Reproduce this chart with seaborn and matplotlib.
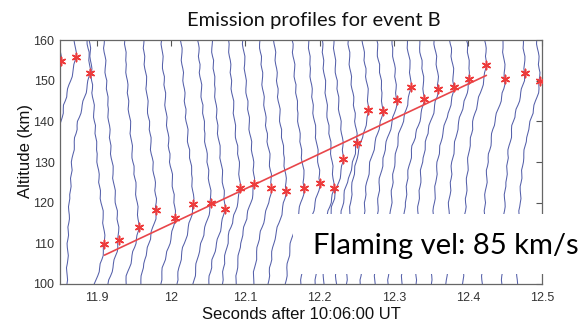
import numpy as np
import pandas as pd
import matplotlib
matplotlib.use("Agg")
import matplotlib.pyplot as plt
import seaborn as sns
from matplotlib.patches import Rectangle

# ---- data ----
star_time = [11.8515, 11.871, 11.890, 11.910, 11.929, 11.956, 11.980, 12.005,
             12.030, 12.053, 12.072, 12.093, 12.112, 12.135, 12.155, 12.179,
             12.200, 12.219, 12.232, 12.250, 12.266, 12.285, 12.304, 12.323,
             12.341, 12.360, 12.381, 12.402, 12.425, 12.450, 12.477, 12.497]
star_alt = [154.8, 155.9, 151.8, 109.8, 110.7, 113.9, 118.2, 116.2,
            119.6, 119.9, 118.4, 123.6, 124.6, 123.7, 122.9, 123.7,
            124.8, 123.7, 130.7, 134.7, 142.9, 142.6, 145.2, 148.5,
            145.6, 148.0, 148.4, 150.5, 153.8, 150.3, 151.8, 149.9]

# profile shape: horizontal offset (ms) vs altitude distance from the peak (km)
shape_dkm = [-60, -45, -30, -20, -12, -6, -2, 0, 3, 8, 15, 25, 40, 60]
shape_ms = [-32, -30, -27, -23, -16, -7, -1.5, 0, -0.6, -2.8, -7, -11.5, -17, -23]
# small-scale wiggle of the profiles (ms), one value per km from 100 to 160
wiggle_ms = [0.0, 0.6, 1.1, 0.3, -0.5, 0.2, 0.9, -0.2, -1.0, -0.4, 0.5, 1.2,
             0.4, -0.6, -1.1, 0.1, 0.7, -0.3, -0.8, 0.3, 1.0, 0.5, -0.4, -0.9,
             -0.1, 0.8, 0.2, -0.7, -1.2, -0.3, 0.6, 1.1, 0.2, -0.5, 0.4, 0.9,
             -0.2, -1.0, -0.6, 0.3, 1.0, 0.4, -0.3, -0.9, 0.1, 0.7, 1.2, 0.3,
             -0.6, -1.1, -0.2, 0.5, -0.1, -0.8, 0.2, 0.9, 0.5, -0.4, -1.0, -0.3, 0.4]
profile_alt = list(range(100, 161))

fit_time = [11.910, 12.425]
fit_alt = [107.1, 151.3]

x_ticks = [11.9, 12.0, 12.1, 12.2, 12.3, 12.4, 12.5]
x_ticklabels = ["11.9", "12", "12.1", "12.2", "12.3", "12.4", "12.5"]
y_ticks = [100, 110, 120, 130, 140, 150, 160]

# ---- build long-form profile table ----
rows = []
alt = np.array(profile_alt, dtype=float)
wig = np.array(wiggle_ms)
for i, (t, pk) in enumerate(zip(star_time, star_alt)):
    off = np.interp(alt - pk, shape_dkm, shape_ms) + np.roll(wig, i * 11)
    for a, o in zip(alt, off):
        rows.append({"profile": i, "alt": a, "time": t + o / 1000.0})
prof = pd.DataFrame(rows)
stars = pd.DataFrame({"time": star_time, "alt": star_alt})
fit = pd.DataFrame({"time": fit_time, "alt": fit_alt})

# ---- figure ----
sns.set_theme(style="white")
plt.rcParams["font.family"] = ["Liberation Sans", "DejaVu Sans"]

fig = plt.figure(figsize=(5.83, 3.23), dpi=100)
ax = fig.add_axes([60 / 583, 39 / 323, 482 / 583, 244 / 323])

sns.lineplot(data=prof, x="time", y="alt", units="profile", estimator=None,
             sort=False, color="#5560aa", linewidth=0.75, ax=ax, legend=False)
sns.lineplot(data=fit, x="time", y="alt", color="#e8464a", linewidth=1.2,
             ax=ax, legend=False)
sns.scatterplot(data=stars, x="time", y="alt", marker=(6, 2, 0), s=36,
                color="#ee3b3b", linewidth=1.1, edgecolor="#ee3b3b",
                ax=ax, legend=False, zorder=5)

ax.set_xlim(11.85, 12.5)
ax.set_ylim(100, 160)
ax.set_xticks(x_ticks)
ax.set_xticklabels(x_ticklabels)
ax.set_yticks(y_ticks)
ax.tick_params(direction="in", top=True, right=True, length=4, width=0.8,
               color="#555555", labelcolor="#333333", labelsize=9, pad=4)
ax.tick_params(axis="x", pad=6)
for sp in ax.spines.values():
    sp.set_color("#666666")
    sp.set_linewidth(0.9)

ax.set_xlabel("Seconds after 10:06:00 UT", fontsize=12, color="#111111", labelpad=2)
ax.set_ylabel("Altitude (km)", fontsize=12, color="#111111")
ax.yaxis.set_label_coords(-0.055, 0.545)
ax.set_title("Emission profiles for event B", fontsize=14.5, color="#111111",
             x=0.527, pad=10, family=["Lato", "DejaVu Sans"])

fig.add_artist(Rectangle((293 / 583, 49 / 323), 1 - 293 / 583, 60 / 323,
                         transform=fig.transFigure, facecolor="white",
                         edgecolor="none", zorder=10))
fig.text(313 / 583, 1 - 246 / 323, "Flaming vel: 85 km/s", fontsize=21,
         family=["Lato", "DejaVu Sans"], color="black", ha="left",
         va="center", zorder=11)

fig.savefig("out.png", dpi=100)
